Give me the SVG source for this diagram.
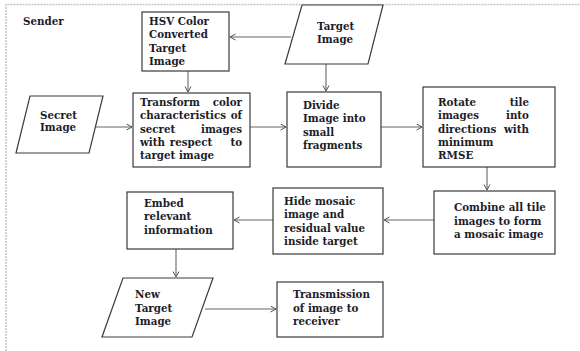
<svg xmlns="http://www.w3.org/2000/svg" width="580" height="351" viewBox="0 0 580 351">
<defs>
<marker id="arr" markerWidth="8" markerHeight="8" refX="6" refY="3.5" orient="auto" markerUnits="userSpaceOnUse">
<path d="M0.5,0.5 L6,3.5 L0.5,6.5" fill="none" stroke="#555" stroke-width="1"/>
</marker>
</defs>
<style>
.box{fill:#fff;stroke:#3a3a3a;stroke-width:1.2}
.t{font-family:"DejaVu Serif","Liberation Serif",serif;font-weight:bold;font-size:10.3px;fill:#1c1c2a}
.e{text-anchor:end}
.m{text-anchor:middle}
.c{fill:none;stroke:#666;stroke-width:1.1;marker-end:url(#arr)}
.frame{fill:none;stroke:#c4c4c4;stroke-width:1.5;stroke-dasharray:2 1}
</style>
<rect width="580" height="351" fill="#fff"/>
<path class="frame" d="M6,351 L6,4.5 L580,4.5"/>
<text class="t" x="23" y="25">Sender</text>

<g id="connectors">
<line class="c" x1="291" y1="37" x2="230" y2="37"/>
<line class="c" x1="188" y1="71" x2="188" y2="92"/>
<line class="c" x1="326" y1="64" x2="326" y2="91"/>
<line class="c" x1="96" y1="127" x2="132" y2="127"/>
<line class="c" x1="250" y1="127" x2="286" y2="127"/>
<line class="c" x1="381" y1="127" x2="422" y2="127"/>
<line class="c" x1="487" y1="167" x2="487" y2="190"/>
<line class="c" x1="434" y1="220" x2="384" y2="220"/>
<line class="c" x1="273" y1="220" x2="234" y2="220"/>
<line class="c" x1="176" y1="249" x2="176" y2="277"/>
<line class="c" x1="205" y1="309" x2="276" y2="309"/>
</g>

<g id="hsv">
<rect class="box" x="142" y="12" width="87" height="59"/>
<text class="t" x="149" y="25">HSV Color</text>
<text class="t" x="149" y="38">Converted</text>
<text class="t" x="149" y="51.5">Target</text>
<text class="t" x="149" y="65">Image</text>
</g>

<g id="target">
<polygon class="box" points="302,5 383,5 368,64 285,64"/>
<text class="t" x="317" y="30">Target</text>
<text class="t" x="317" y="43">Image</text>
</g>

<g id="secret">
<polygon class="box" points="30,96 103,96 89,153 16,153"/>
<text class="t" x="40" y="119">Secret</text>
<text class="t" x="40" y="131">Image</text>
</g>

<g id="transform">
<rect class="box" x="133" y="93" width="117" height="74"/>
<text class="t" x="140" y="106">Transform</text><text class="t e" x="242" y="106">color</text>
<text class="t" x="140" y="119">characteristics</text><text class="t e" x="242" y="119">of</text>
<text class="t" x="140" y="132.5">secret</text><text class="t e" x="242" y="132.5">images</text>
<text class="t" x="140" y="146">with</text><text class="t m" x="191" y="146">respect</text><text class="t e" x="242" y="146">to</text>
<text class="t" x="140" y="159">target image</text>
</g>

<g id="divide">
<rect class="box" x="287" y="92" width="94" height="75"/>
<text class="t" x="303" y="109">Divide</text>
<text class="t" x="303" y="122">Image into</text>
<text class="t" x="303" y="136">small</text>
<text class="t" x="303" y="149">fragments</text>
</g>

<g id="rotate">
<rect class="box" x="423" y="87" width="132" height="80"/>
<text class="t" x="438" y="106">Rotate</text><text class="t e" x="529" y="106">tile</text>
<text class="t" x="438" y="119">images</text><text class="t e" x="529" y="119">into</text>
<text class="t" x="438" y="132.5">directions</text><text class="t e" x="529" y="132.5">with</text>
<text class="t" x="438" y="146">minimum</text>
<text class="t" x="438" y="159">RMSE</text>
</g>

<g id="combine">
<rect class="box" x="434" y="191" width="121" height="63"/>
<text class="t" x="454" y="211">Combine all tile</text>
<text class="t" x="454" y="225">images to form</text>
<text class="t" x="454" y="238">a mosaic image</text>
</g>

<g id="hide">
<rect class="box" x="273" y="188" width="110" height="66"/>
<text class="t" x="284" y="205">Hide mosaic</text>
<text class="t" x="284" y="218">image and</text>
<text class="t" x="284" y="231.5">residual value</text>
<text class="t" x="284" y="244.5">inside target</text>
</g>

<g id="embed">
<rect class="box" x="127" y="192" width="106" height="57"/>
<text class="t" x="144" y="207">Embed</text>
<text class="t" x="144" y="220">relevant</text>
<text class="t" x="144" y="233.5">information</text>
</g>

<g id="newtarget">
<polygon class="box" points="123,278 213,278 192,337 102,337"/>
<text class="t" x="135" y="298">New</text>
<text class="t" x="135" y="312">Target</text>
<text class="t" x="135" y="325">Image</text>
</g>

<g id="transmission">
<rect class="box" x="277" y="282" width="106" height="55"/>
<text class="t" x="293" y="298">Transmission</text>
<text class="t" x="293" y="312">of image to</text>
<text class="t" x="293" y="325">receiver</text>
</g>
</svg>
